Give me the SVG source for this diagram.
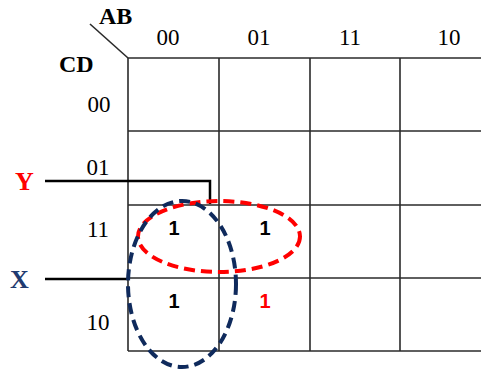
<svg xmlns="http://www.w3.org/2000/svg" width="481" height="369" viewBox="0 0 481 369">
<style>
.grid{stroke:#2a2a2a;stroke-width:1.6;fill:none}
.lbl{font-family:"Liberation Serif",serif;font-size:23px;fill:#000}
.hdr{font-family:"Liberation Serif",serif;font-size:24px;font-weight:bold;fill:#000}
.var{font-family:"Liberation Serif",serif;font-size:26px;font-weight:bold}
.one{font-family:"Liberation Sans",sans-serif;font-size:20px;font-weight:bold;text-anchor:middle}
.lead{stroke:#000;stroke-width:2.5;fill:none}
</style>
<rect width="481" height="369" fill="#fff"/>
<g id="grid">
<line class="grid" x1="90" y1="24" x2="128" y2="58"/>
<line class="grid" x1="128" y1="58" x2="481" y2="58"/>
<line class="grid" x1="128" y1="131" x2="481" y2="131"/>
<line class="grid" x1="128" y1="205" x2="481" y2="205"/>
<line class="grid" x1="128" y1="278" x2="481" y2="278"/>
<line class="grid" x1="128" y1="351" x2="481" y2="351"/>
<line class="grid" x1="128" y1="58" x2="128" y2="351"/>
<line class="grid" x1="219" y1="58" x2="219" y2="351"/>
<line class="grid" x1="310" y1="58" x2="310" y2="351"/>
<line class="grid" x1="400" y1="58" x2="400" y2="351"/>
</g>
<g id="labels">
<text class="hdr" x="99" y="24">AB</text>
<text class="hdr" x="59" y="72">CD</text>
<text class="lbl" x="168" y="45" text-anchor="middle">00</text>
<text class="lbl" x="259" y="45" text-anchor="middle">01</text>
<text class="lbl" x="350" y="45" text-anchor="middle">11</text>
<text class="lbl" x="449" y="45" text-anchor="middle">10</text>
<text class="lbl" x="99" y="112" text-anchor="middle">00</text>
<text class="lbl" x="98" y="175" text-anchor="middle">01</text>
<text class="lbl" x="98" y="237" text-anchor="middle">11</text>
<text class="lbl" x="98" y="330" text-anchor="middle">10</text>
</g>
<g id="cells">
<text class="one" x="174" y="235" fill="#000">1</text>
<text class="one" x="265" y="235" fill="#000">1</text>
<text class="one" x="174" y="308" fill="#000">1</text>
<text class="one" x="265" y="308" fill="#ff0000">1</text>
</g>
<g id="connectors">
<polyline class="lead" points="45,181 210,181 210,204"/>
<line class="lead" x1="45" y1="279" x2="128" y2="279"/>
</g>
<g id="Y">
<text class="var" x="15" y="190" fill="#ff0000">Y</text>
</g>
<g id="X">
<text class="var" x="10" y="288" fill="#1f3a70">X</text>
</g>
<g id="groupY">
<ellipse cx="219" cy="236.5" rx="81" ry="35.5" fill="none" stroke="#ff0000" stroke-width="4" stroke-dasharray="11 6"/>
</g>
<g id="groupX">
<ellipse cx="182" cy="284" rx="54" ry="83" fill="none" stroke="#0f2a5c" stroke-width="4" stroke-dasharray="11 6"/>
</g>
</svg>
